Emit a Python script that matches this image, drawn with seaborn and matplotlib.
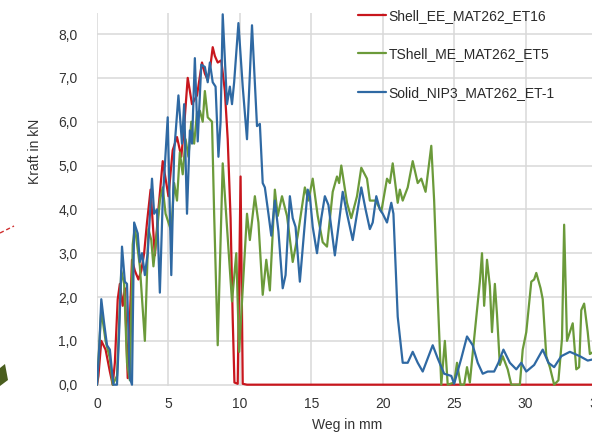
import matplotlib
matplotlib.use("Agg")
import matplotlib.pyplot as plt
import seaborn as sns
import pandas as pd
from matplotlib.ticker import FuncFormatter
from matplotlib.lines import Line2D
from matplotlib.patches import Polygon

# ---------------- data ----------------
labels = ["Shell_EE_MAT262_ET16", "TShell_ME_MAT262_ET5", "Solid_NIP3_MAT262_ET-1"]
colors = ["#C8161D", "#6B9A3A", "#2F69A3"]

red_x = [0, 0.1, 0.3, 0.6, 0.9, 1.1, 1.25, 1.45, 1.6, 1.8, 1.95, 2.15, 2.3, 2.45, 2.65,
         2.9, 3.1, 3.3, 3.5, 3.75, 4.05, 4.3, 4.6, 4.8, 5.0, 5.3, 5.6, 5.9, 6.1, 6.35,
         6.65, 7.0, 7.35, 7.55, 7.75, 7.95, 8.1, 8.25, 8.45, 8.7, 8.95, 9.15, 9.35, 9.5,
         9.62, 9.85, 10.05, 10.2, 10.5, 35]
red_y = [0, 0.2, 1.0, 0.8, 0.3, 0.0, 0.5, 1.95, 2.3, 1.8, 2.2, 0.15, 1.5, 2.85, 2.6,
         2.4, 2.6, 3.0, 3.7, 4.45, 2.95, 4.0, 5.1, 4.7, 4.3, 5.35, 5.65, 5.2, 5.9, 7.0,
         6.4, 6.6, 7.35, 7.1, 6.95, 7.3, 7.7, 7.5, 7.35, 7.4, 6.7, 5.6, 3.8, 1.5,
         0.05, 0.02, 4.75, 0.02, 0.0, 0.0]

green_x = [0, 0.3, 0.6, 0.9, 1.1, 1.4, 1.7, 1.9, 2.1, 2.3, 2.5, 2.65, 3.0, 3.35, 3.6,
           3.8, 3.95, 4.2, 4.4, 4.6, 4.8, 5.0, 5.2, 5.4, 5.6, 5.8, 6.0, 6.2, 6.4, 6.6,
           6.8, 7.0, 7.2, 7.4, 7.55, 7.75, 8.05, 8.2, 8.45, 8.8, 9.15, 9.45, 9.75, 9.95,
           10.5, 10.7, 11.05, 11.3, 11.6, 11.85, 12.1, 12.45, 12.65, 12.95, 13.3, 13.7,
           14.05, 14.55, 14.8, 15.1, 15.45, 15.8, 16.1, 16.5, 16.8, 16.95, 17.1, 17.5,
           17.8, 18.2, 18.5, 18.9, 19.1, 19.5, 19.9, 20.3, 20.5, 20.7, 21.05, 21.2, 21.4,
           21.75, 22.1, 22.45, 22.7, 23.0, 23.4, 23.6, 23.85, 24.1, 24.35, 24.55, 25.0,
           25.2, 25.45, 25.7, 25.9, 26.1, 26.4, 26.8, 26.95, 27.1, 27.3, 27.5, 27.65,
           27.85, 28.0, 28.2, 28.4, 28.75, 29.0, 29.6, 29.8, 30.05, 30.4, 30.6, 30.75,
           31.05, 31.2, 31.45, 31.7, 32.0, 32.3, 32.55, 32.7, 32.9, 33.1, 33.3, 33.55,
           33.75, 33.9, 34.1, 34.35, 34.5, 35]
green_y = [0, 1.7, 1.0, 0.6, 0, 0.2, 2.6, 2.3, 0.5, 0.1, 3.2, 3.6, 2.7, 1.0, 3.55,
           3.3, 2.7, 3.5, 4.2, 4.5, 3.9, 3.7, 3.5, 4.6, 4.2, 5.3, 4.8, 5.6, 5.2, 6.0,
           5.5, 6.2, 6.25, 6.0, 6.7, 6.1, 6.0, 3.9, 0.9, 5.05, 3.35, 1.9, 3.0, 0.75,
           3.9, 3.3, 4.3, 3.7, 2.05, 2.85, 2.15, 4.45, 3.85, 4.3, 3.85, 2.8,
           3.4, 4.5, 4.2, 4.7, 3.85, 3.25, 3.15, 4.4, 4.75, 4.6, 5.0, 4.15,
           3.8, 4.3, 4.95, 4.7, 4.2, 4.2, 3.95, 4.7, 4.6, 5.05, 4.15, 4.45, 4.2,
           4.5, 5.1, 4.6, 4.7, 4.4, 5.45, 4.2, 2.0, 0, 1.0, 0, 0.05,
           0.5, 0, 0.0, 0.4, 0.05, 1.05, 2.35, 3.0, 1.8, 2.85, 2.25, 1.2,
           2.3, 1.6, 0.45, 0.65, 0.35, 0, 0, 0.8, 1.2, 2.35, 2.4, 2.55,
           2.2, 1.95, 0.65, 0.4, 0, 0.1, 1.05, 3.65, 1.0, 1.2, 1.4, 0.35,
           0.4, 1.7, 1.85, 1.2, 0.7, 0.8]

blue_x = [0, 0.15, 0.3, 0.5, 0.7, 0.9, 1.05, 1.15, 1.4, 1.55, 1.75, 1.95, 2.1, 2.3, 2.45,
          2.6, 2.85, 3.0, 3.15, 3.35, 3.55, 3.85, 4.0, 4.2, 4.4, 4.6, 4.75, 4.95, 5.2,
          5.4, 5.7, 5.95, 6.1, 6.3, 6.5, 6.65, 6.85, 7.05, 7.3, 7.55, 7.75, 7.9, 8.1,
          8.3, 8.5, 8.65, 8.8, 9.1, 9.3, 9.45, 9.6, 9.9, 10.2, 10.5, 10.85, 11.2, 11.4,
          11.6, 11.75, 12.0, 12.2, 12.45, 12.7, 13.0, 13.2, 13.5, 13.7, 13.9, 14.2,
          14.5, 14.75, 14.9, 15.1, 15.4, 15.7, 15.95, 16.2, 16.65, 16.9, 17.2, 17.5,
          17.9, 18.2, 18.5, 18.8, 19.1, 19.3, 19.55, 19.8, 20.0, 20.3, 20.6, 20.75,
          21.05, 21.4, 21.75, 22.1, 22.45, 22.8, 23.15, 23.5, 23.85, 24.3, 24.8, 25.0,
          25.5, 25.9, 26.3, 26.65, 27.0, 27.35, 27.8, 28.1, 28.45, 28.9, 29.35, 29.7,
          30.05, 30.6, 31.2, 31.6, 32.0, 32.5, 33.1, 33.8, 34.35, 35]
blue_y = [0, 0.8, 1.95, 1.4, 0.9, 0.8, 0.3, 0, 0, 1.2, 3.15, 2.35, 2.3, 0.15, 0,
          3.7, 3.45, 2.8, 3.0, 2.5, 3.0, 4.7, 3.9, 4.0, 2.1, 4.2, 5.0, 6.1, 2.5,
          5.3, 6.6, 5.5, 6.4, 3.9, 5.8, 5.5, 7.45, 5.55, 7.3, 7.25, 6.9, 7.35, 6.9,
          6.8, 5.2, 6.0, 8.45, 6.4, 6.8, 6.4, 6.9, 8.25, 6.8, 5.6, 8.2, 5.9, 5.95,
          4.6, 4.5, 3.9, 3.4, 4.2, 3.5, 2.2, 2.5, 4.3, 3.8, 3.6, 2.35,
          3.5, 4.45, 4.3, 3.6, 3.0, 3.8, 4.3, 4.1, 2.95, 3.6, 4.4, 3.9,
          3.3, 3.9, 4.5, 4.0, 3.55, 3.7, 4.3, 4.0, 3.9, 3.7, 4.15, 3.9,
          1.55, 0.5, 0.5, 0.75, 0.5, 0.3, 0.6, 0.9, 0.6, 0.25, 0.2, 0.02,
          0.6, 1.1, 0.9, 0.5, 0.25, 0.3, 0.3, 0.5, 0.8, 0.5, 0.35, 0.5,
          0.3, 0.45, 0.8, 0.5, 0.4, 0.65, 0.75, 0.65, 0.55, 0.6]

x_ticks = [0, 5, 10, 15, 20, 25, 30, 35]
y_ticks = [0, 1, 2, 3, 4, 5, 6, 7, 8]

# ---------------- figure ----------------
sns.set_style("whitegrid")
plt.rcParams["font.family"] = ["Liberation Sans", "DejaVu Sans"]

W, H = 592, 436
fig = plt.figure(figsize=(W / 100, H / 100), dpi=100)
ax = fig.add_axes([97 / W, 50 / H, 500 / W, 373 / H])

df = pd.concat([
    pd.DataFrame({"x": red_x, "y": red_y, "series": labels[0]}),
    pd.DataFrame({"x": green_x, "y": green_y, "series": labels[1]}),
    pd.DataFrame({"x": blue_x, "y": blue_y, "series": labels[2]}),
], ignore_index=True)

sns.lineplot(data=df, x="x", y="y", hue="series", hue_order=labels,
             palette=dict(zip(labels, colors)), estimator=None, sort=False,
             linewidth=1.6, ax=ax, legend=False)

ax.set_xlim(0, 35)
ax.set_ylim(-0.03, 8.48)
ax.set_xticks(x_ticks)
ax.set_yticks(y_ticks)
ax.yaxis.set_major_formatter(FuncFormatter(lambda v, p: f"{v:.1f}".replace(".", ",")))
ax.xaxis.set_major_formatter(FuncFormatter(lambda v, p: f"{int(v)}"))
ax.grid(True, color="#d9d9d9", linewidth=1.1)
for s in ax.spines.values():
    s.set_visible(False)
ax.tick_params(axis="both", length=0, labelsize=10, colors="#333333")
ax.tick_params(axis="y", pad=14)
ax.tick_params(axis="x", pad=8)

ax.set_xlabel("Weg in mm", fontsize=10, color="#333333", labelpad=5)
ax.set_ylabel("Kraft in kN", fontsize=10, color="#333333")
ax.yaxis.set_label_coords(-0.11, 0.63)

handles = [Line2D([], [], color=c, lw=1.6) for c in colors]
ax.legend(handles, labels, loc="upper left", bbox_to_anchor=(358 / W, 1 - 9 / H),
          bbox_transform=fig.transFigure, frameon=False, fontsize=10,
          handlelength=2.0, handletextpad=0.2, labelspacing=1.75,
          borderaxespad=0, borderpad=0, labelcolor="#2a2a2a")

# cropped screenshot remnants at left edge
fig.add_artist(Line2D([0, 14 / W], [1 - 233 / H, 1 - 226 / H], transform=fig.transFigure,
                      color="#d03030", lw=1, linestyle=(0, (3, 2))))
fig.add_artist(Polygon([(0, 1 - 368 / H), (5 / W, 1 - 364 / H), (8 / W, 1 - 380 / H),
                        (0, 1 - 386 / H)], closed=True, transform=fig.transFigure,
                       facecolor="#4a5e1e", edgecolor="none"))

fig.savefig("out.png", dpi=100)
